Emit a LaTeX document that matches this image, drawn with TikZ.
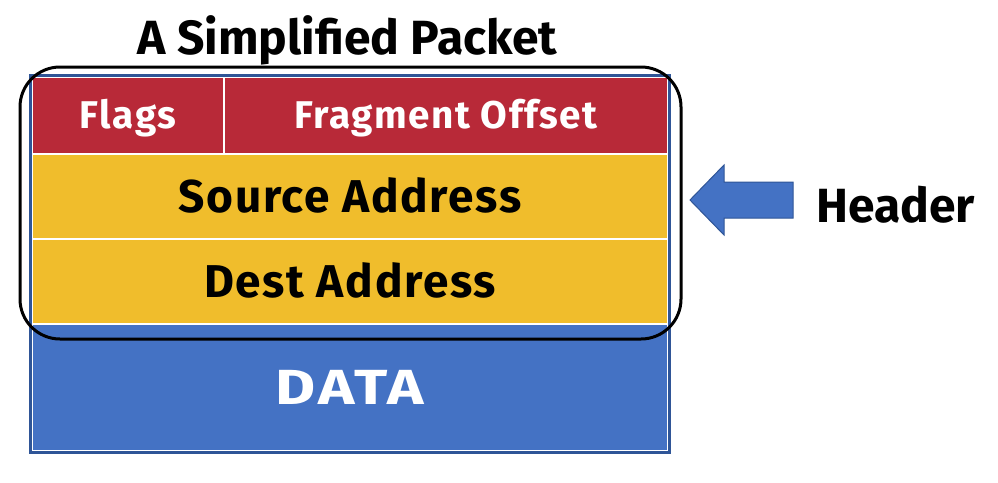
\documentclass[tikz,border=0pt]{standalone}
\usepackage{fontspec}
\setmainfont{Fira Sans}
\usetikzlibrary{positioning,fit,arrows.meta,calc}

\definecolor{flagred}{RGB}{184,41,56}
\definecolor{addryellow}{RGB}{240,189,44}
\definecolor{datablue}{RGB}{68,114,196}
\definecolor{frameblue}{RGB}{47,85,151}

\begin{document}
\begin{tikzpicture}[
    x=0.75pt,
    y=-0.75pt,
    cell/.style={
        draw=white,
        line width=1.5pt,
        inner sep=0pt,
        outer sep=0pt,
        text height=24pt,
        text depth=0pt,
        align=center,
        font=\bfseries\fontsize{34.5}{40}\selectfont\addfontfeature{LetterSpace=3.6}
    },
    flagcell/.style={cell, fill=flagred, text=white, minimum height=57.75pt, text height=20pt,
        font=\bfseries\fontsize{29}{34}\selectfont\addfontfeature{LetterSpace=4}},
    addrcell/.style={cell, fill=addryellow, text=black, minimum width=477pt, minimum height=63.75pt},
    datacell/.style={cell, fill=datablue, text=white, minimum width=477pt, minimum height=95.25pt,
        text height=25.5pt, font=\bfseries\fontsize{37}{42}\selectfont\addfontfeature{FakeStretch=1.25,LetterSpace=6}},
    hdrbox/.style={draw=black, line width=2.25pt, rounded corners=30pt, inner sep=0pt},
    bigtext/.style={font=\bfseries\fontsize{36}{42}\selectfont, inner sep=0pt}
]
\useasboundingbox (0,0) rectangle (998,482);

% ============================================================
% PACKET FIELDS
% ============================================================
\node[flagcell, minimum width=144pt, anchor=north west] (flags) at (32,77) {Flags};
\node[flagcell, minimum width=333pt, right=0pt of flags] (frag) {Fragment Offset};
\node[addrcell, anchor=north west] (src) at (flags.south west) {Source Address};
\node[addrcell, anchor=north west] (dst) at (src.south west) {Dest Address};
\node[datacell, anchor=north west] (data) at (dst.south west) {DATA};

% outer frame
\node[draw=frameblue, line width=2.5pt, inner sep=1.25pt, fit=(flags)(frag)(data)] (packet) {};

% ============================================================
% HEADER MARK
% ============================================================
\node[hdrbox, fit={($(flags.north west)+(-12,-10)$) ($(dst.south east)+(13,15)$)}] (hdr) {};

\node[bigtext, anchor=base] (title) at (347.5,54) {A Simplified Packet};

\coordinate (tip) at (690,200);
\draw[fill=datablue, draw=frameblue, line width=0.75pt]
    (tip) -- ++(34,-35) -- ++(0,17) -- ++(69,0) -- ++(0,36) -- ++(-69,0) -- ++(0,17) -- cycle;
\node[bigtext, anchor=base west] (hdrlabel) at (816,222) {Header};

\end{tikzpicture}
\end{document}
